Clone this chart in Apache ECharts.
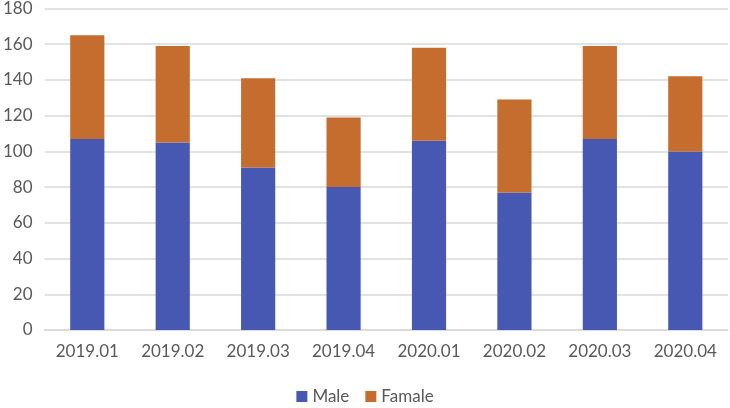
<!DOCTYPE html>
<html>
<head>
<meta charset="utf-8">
<script src="https://cdn.jsdelivr.net/npm/echarts@6/dist/echarts.min.js"></script>
<style>
  html, body { margin: 0; padding: 0; background: #fff; }
  #chart { width: 730px; height: 408px; }
</style>
</head>
<body>
<div id="chart"></div>
<script>
const categories = ['2019.01', '2019.02', '2019.03', '2019.04', '2020.01', '2020.02', '2020.03', '2020.04'];
const maleValues = [107, 105, 91, 80, 106, 77, 107, 100];
const femaleValues = [58, 54, 50, 39, 52, 52, 52, 42];
const seriesNames = ['Male', 'Famale'];

const chart = echarts.init(document.getElementById('chart'));
const textColor = '#595959';
const font = 'Lato, "Open Sans", sans-serif';

chart.setOption({
    animation: false,
    grid: { left: 42, right: 2, top: 7, bottom: 78 },
    legend: {
        bottom: -2,
        left: 'center',
        itemWidth: 11,
        itemHeight: 11,
        itemGap: 16,
        icon: 'rect',
        textStyle: { color: textColor, fontSize: 17, fontFamily: font },
        data: seriesNames
    },
    xAxis: {
        type: 'category',
        data: categories,
        axisTick: { show: false },
        axisLine: { lineStyle: { color: '#d9d9d9', width: 1.5 } },
        axisLabel: { color: textColor, fontSize: 17, fontFamily: font, margin: 13 }
    },
    yAxis: {
        type: 'value',
        min: 0,
        max: 180,
        interval: 20,
        axisLine: { show: false },
        axisTick: { show: false },
        splitLine: { lineStyle: { color: '#d9d9d9', width: 1.5 } },
        axisLabel: { color: textColor, fontSize: 17, fontFamily: font, margin: 12 }
    },
    series: [
        {
            name: seriesNames[0],
            type: 'bar',
            stack: 'total',
            barWidth: '40%',
            data: maleValues,
            itemStyle: { color: '#4758b3' }
        },
        {
            name: seriesNames[1],
            type: 'bar',
            stack: 'total',
            data: femaleValues,
            itemStyle: { color: '#c46d2f' }
        }
    ]
});
</script>
</body>
</html>
